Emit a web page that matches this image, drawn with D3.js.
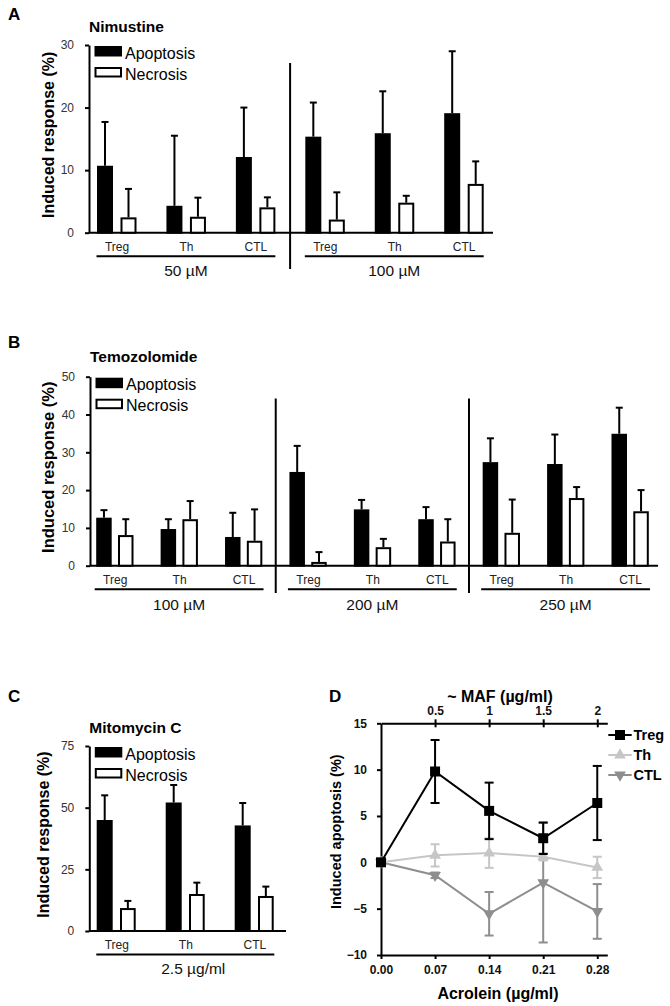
<!DOCTYPE html>
<html><head><meta charset="utf-8">
<script src="https://cdn.jsdelivr.net/npm/d3@7"></script>
<style>body{margin:0;background:#fff} svg{display:block} text{font-family:"Liberation Sans",Arial,sans-serif}</style>
</head><body><svg id="c" width="670" height="1006"></svg>
<script>
// ---------- data ----------
const cellTypes = ["Treg", "Th", "CTL"];
const seriesNames = ["Apoptosis", "Necrosis"];

const nimustineDoses = ["50 µM", "100 µM"];
const nimustineApoptosis = [10.7, 4.3, 12.1, 15.35, 15.9, 19.1];
const nimustineApoptosisErr = [7.0, 11.2, 7.9, 5.45, 6.7, 9.9];
const nimustineNecrosis = [2.45, 2.55, 4.05, 2.1, 4.8, 7.8];
const nimustineNecrosisErr = [4.55, 3.05, 1.6, 4.35, 1.1, 3.6];
const nimustineTicks = [0, 10, 20, 30];

const temozolomideDoses = ["100 µM", "200 µM", "250 µM"];
const temozolomideApoptosis = [12.7, 9.7, 7.6, 24.8, 14.9, 12.3, 27.4, 26.9, 34.9];
const temozolomideApoptosisErr = [2.0, 2.6, 6.4, 6.9, 2.5, 3.2, 6.3, 7.8, 6.9];
const temozolomideNecrosis = [8.1, 12.3, 6.6, 1.0, 4.9, 6.4, 8.7, 17.9, 14.4];
const temozolomideNecrosisErr = [4.2, 4.8, 8.3, 2.6, 2.2, 5.9, 8.8, 2.9, 5.6];
const temozolomideTicks = [0, 10, 20, 30, 40, 50];

const mitomycinDoses = ["2.5 µg/ml"];
const mitomycinApoptosis = [45.0, 52.1, 42.8];
const mitomycinApoptosisErr = [10.0, 7.1, 9.1];
const mitomycinNecrosis = [9.3, 15.0, 14.2];
const mitomycinNecrosisErr = [2.9, 4.6, 3.8];
const mitomycinTicks = [0, 25, 50, 75];

const acroleinDoses = [0, 0.07, 0.14, 0.21, 0.28];
const acroleinTickLabels = ["0.00", "0.07", "0.14", "0.21", "0.28"];
const mafTicks = [0.5, 1, 1.5, 2];
const apoptosisTicks = [-10, -5, 0, 5, 10, 15];
const tregApoptosis = [0, 9.8, 5.55, 2.6, 6.4];
const tregErr = [0, 3.4, 3.05, 1.7, 4.0];
const thApoptosis = [0, 0.75, 1.0, 0.6, -0.55];
const thErr = [0, 1.2, 1.6, 0.4, 1.15];
const ctlApoptosis = [0, -1.4, -5.55, -2.2, -5.3];
const ctlErr = [0, 0.3, 2.35, 6.45, 2.95];

// ---------- drawing ----------
const svg = d3.select("#c");
const FONT = '"Liberation Sans", Arial, sans-serif';

function letter(t, x, y) {
  svg.append("text").attr("x", x).attr("y", y).text(t)
    .attr("font-size", 17).attr("font-weight", "bold").attr("fill", "#000");
}

function barPanel(o) {
  const g = svg.append("g");
  const groups = o.doses.flatMap((d, i) => cellTypes.map(c => i + "|" + c));
  const x = d3.scalePoint().domain(groups).range([o.firstC, o.lastC]);
  const y = d3.scaleLinear().domain([0, o.yMax]).range([o.yBottom, o.yTop]);

  // title + letter
  letter(o.letter, 8, o.letterY);
  g.append("text").attr("x", o.axisX).attr("y", o.yTop - o.titleGap).text(o.title)
    .attr("font-size", 15.5).attr("font-weight", "bold");

  // y axis
  const ya = g.append("g").attr("transform", `translate(${o.axisX},0)`)
    .call(d3.axisLeft(y).tickValues(o.ticks).tickSize(4).tickSizeOuter(0).tickPadding(11));
  ya.selectAll("path,line").attr("stroke", "#000").attr("stroke-width", 2);
  ya.selectAll("text").attr("font-size", 12).attr("fill", "#333").attr("font-family", FONT);

  // y label
  g.append("text").attr("transform", `translate(${o.labelX},${(o.yTop + o.yBottom) / 2 - 4}) rotate(-90)`)
    .attr("text-anchor", "middle").attr("font-size", o.labelSize).attr("font-weight", "bold")
    .text("Induced response (%)");

  // baseline
  g.append("line").attr("x1", o.axisX).attr("x2", o.xEnd).attr("y1", o.yBottom).attr("y2", o.yBottom)
    .attr("stroke", "#000").attr("stroke-width", 2);

  // category labels
  const xa = g.append("g").attr("transform", `translate(0,${o.yBottom})`)
    .call(d3.axisBottom(x).tickSize(0).tickPadding(9.5).tickFormat(d => d.split("|")[1]));
  xa.select(".domain").remove();
  xa.selectAll("text").attr("font-size", 12).attr("fill", "#222").attr("font-family", FONT);

  // bars
  const series = [
    { vals: o.apo, errs: o.apoErr, off: o.apoOff, fill: "#000" },
    { vals: o.nec, errs: o.necErr, off: o.necOff, fill: "#fff" }
  ];
  series.forEach(s => {
    const cx = (d, i) => x(groups[i]) + (s.off[0] + s.off[1]) / 2;
    // error bars
    g.selectAll(null).data(s.vals).enter().append("line")
      .attr("x1", cx).attr("x2", cx)
      .attr("y1", d => y(d)).attr("y2", (d, i) => y(d + s.errs[i]))
      .attr("stroke", "#000").attr("stroke-width", 2);
    g.selectAll(null).data(s.vals).enter().append("line")
      .attr("x1", (d, i) => cx(d, i) - 3.5).attr("x2", (d, i) => cx(d, i) + 3.5)
      .attr("y1", (d, i) => y(d + s.errs[i])).attr("y2", (d, i) => y(d + s.errs[i]))
      .attr("stroke", "#000").attr("stroke-width", 2);
    g.selectAll(null).data(s.vals).enter().append("rect")
      .attr("x", (d, i) => x(groups[i]) + s.off[0] + 1)
      .attr("width", s.off[1] - s.off[0] - 2)
      .attr("y", d => y(d) + 1)
      .attr("height", d => Math.max(0, y(0) - y(d) - 1))
      .attr("fill", s.fill).attr("stroke", "#000").attr("stroke-width", 2);
  });

  // dose underlines, labels, dividers
  o.doses.forEach((dose, i) => {
    const x0 = x(i + "|" + cellTypes[0]) - 20, x1 = x(i + "|" + cellTypes[2]) + 20;
    g.append("line").attr("x1", x0).attr("x2", x1).attr("y1", o.yBottom + 23.5).attr("y2", o.yBottom + 23.5)
      .attr("stroke", "#000").attr("stroke-width", 2);
    g.append("text").attr("x", (x0 + x1) / 2 + o.doseShift).attr("y", o.yBottom + o.doseGap)
      .attr("text-anchor", "middle").attr("font-size", 15.5).attr("fill", "#111").text(dose);
    if (i > 0) {
      const dx = (x((i - 1) + "|" + cellTypes[2]) + x(i + "|" + cellTypes[0])) / 2;
      g.append("line").attr("x1", dx).attr("x2", dx).attr("y1", o.divTop).attr("y2", o.divBottom)
        .attr("stroke", "#000").attr("stroke-width", 2);
    }
  });

  // legend
  seriesNames.forEach((n, i) => {
    const ty = o.yTop + 1 + i * 21;
    g.append("rect").attr("x", o.axisX + 6.5).attr("y", ty + 1).attr("width", 25.5).attr("height", 8.5)
      .attr("fill", i === 0 ? "#000" : "#fff").attr("stroke", "#000").attr("stroke-width", 2);
    g.append("text").attr("x", o.axisX + 36).attr("y", ty + 12.5).attr("font-size", 16).text(n);
  });
}

barPanel({
  letter: "A", letterY: 20, title: "Nimustine", titleGap: 13,
  doses: nimustineDoses, apo: nimustineApoptosis, apoErr: nimustineApoptosisErr,
  nec: nimustineNecrosis, necErr: nimustineNecrosisErr, ticks: nimustineTicks, yMax: 30,
  axisX: 89, yTop: 45, yBottom: 232.7, xEnd: 493, firstC: 116.5, lastC: 463.7,
  apoOff: [-19.5, -3.5], necOff: [4, 20], divTop: 63, divBottom: 269,
  labelX: 54, labelSize: 16, doseGap: 43, doseShift: 0
});

barPanel({
  letter: "B", letterY: 347.5, title: "Temozolomide", titleGap: 15,
  doses: temozolomideDoses, apo: temozolomideApoptosis, apoErr: temozolomideApoptosisErr,
  nec: temozolomideNecrosis, necErr: temozolomideNecrosisErr, ticks: temozolomideTicks, yMax: 50,
  axisX: 90, yTop: 376.7, yBottom: 565.7, xEnd: 658, firstC: 114.7, lastC: 630,
  apoOff: [-18.5, -3], necOff: [3.3, 18.8], divTop: 398.5, divBottom: 593,
  labelX: 54, labelSize: 16.5, doseGap: 44, doseShift: 0
});

barPanel({
  letter: "C", letterY: 701.7, title: "Mitomycin C", titleGap: 13.3,
  doses: mitomycinDoses, apo: mitomycinApoptosis, apoErr: mitomycinApoptosisErr,
  nec: mitomycinNecrosis, necErr: mitomycinNecrosisErr, ticks: mitomycinTicks, yMax: 75,
  axisX: 89.3, yTop: 746, yBottom: 931, xEnd: 286, firstC: 116.3, lastC: 254.3,
  apoOff: [-19.6, -3.6], necOff: [3.7, 19.4], divTop: 0, divBottom: 0,
  labelX: 49, labelSize: 16, doseGap: 43, doseShift: 8
});

// ---------- panel D ----------
(function () {
  const g = svg.append("g");
  letter("D", 329, 701.7);
  const x = d3.scaleLinear().domain([0, 0.293]).range([381, 607.3]);
  const xm = d3.scaleLinear().domain([0, 0.293 / 0.14]).range([381, 607.3]);
  const y = d3.scaleLinear().domain([-10, 15]).range([955, 723.3]);

  const la = g.append("g").attr("transform", "translate(381,0)")
    .call(d3.axisLeft(y).tickValues(apoptosisTicks).tickSize(4).tickSizeOuter(0).tickPadding(10));
  const ba = g.append("g").attr("transform", "translate(0,955)")
    .call(d3.axisBottom(x).tickValues(acroleinDoses).tickSize(4).tickSizeOuter(0).tickPadding(6)
      .tickFormat((d, i) => acroleinTickLabels[i]));
  const ta = g.append("g").attr("transform", "translate(0,723.3)")
    .call(d3.axisTop(xm).tickValues(mafTicks).tickSize(4).tickSizeOuter(0).tickPadding(4)
      .tickFormat(d3.format("")));
  ta.selectAll(".tick line").attr("y2", -4).attr("y1", 4);
  [la, ba, ta].forEach(a => {
    a.selectAll("path,line").attr("stroke", "#000").attr("stroke-width", 2);
    a.selectAll("text").attr("font-size", 12).attr("font-weight", "bold").attr("fill", "#111").attr("font-family", FONT);
  });

  g.append("text").attr("x", 500).attr("y", 701.7).attr("text-anchor", "middle")
    .attr("font-size", 16).attr("font-weight", "bold").text("~ MAF (µg/ml)");
  g.append("text").attr("x", 498).attr("y", 999.3).attr("text-anchor", "middle")
    .attr("font-size", 16).attr("font-weight", "bold").text("Acrolein (µg/ml)");
  g.append("text").attr("transform", "translate(341,831.7) rotate(-90)").attr("text-anchor", "middle")
    .attr("font-size", 14.5).attr("font-weight", "bold").text("Induced apoptosis (%)");

  const series = [
    { name: "CTL", vals: ctlApoptosis, errs: ctlErr, color: "#8e8e8e", sym: d3.symbolTriangle, rot: 180, size: 60 },
    { name: "Th", vals: thApoptosis, errs: thErr, color: "#c6c6c6", sym: d3.symbolTriangle, rot: 0, size: 60 },
    { name: "Treg", vals: tregApoptosis, errs: tregErr, color: "#000", sym: d3.symbolSquare, rot: 0, size: 100 }
  ];
  const line = d3.line().x((d, i) => x(acroleinDoses[i])).y(d => y(d));
  series.forEach(s => {
    const sg = g.append("g");
    s.vals.forEach((v, i) => {
      if (s.errs[i] <= 0) return;
      const cx = x(acroleinDoses[i]);
      const lo = y(v - s.errs[i]), hi = y(v + s.errs[i]);
      sg.append("line").attr("x1", cx).attr("x2", cx).attr("y1", lo).attr("y2", hi)
        .attr("stroke", s.color).attr("stroke-width", 2);
      [lo, hi].forEach(yy => sg.append("line").attr("x1", cx - 4.5).attr("x2", cx + 4.5)
        .attr("y1", yy).attr("y2", yy).attr("stroke", s.color).attr("stroke-width", 2));
    });
    sg.append("path").attr("d", line(s.vals)).attr("fill", "none").attr("stroke", s.color).attr("stroke-width", 2);
    sg.selectAll(null).data(s.vals).enter().append("path")
      .attr("d", d3.symbol().type(s.sym).size(s.size))
      .attr("transform", (d, i) => `translate(${x(acroleinDoses[i])},${y(d)}) rotate(${s.rot})`)
      .attr("fill", s.color);
  });

  // legend
  const leg = [series[2], series[1], series[0]];
  leg.forEach((s, i) => {
    const ly = 735 + i * 20;
    g.append("line").attr("x1", 608.3).attr("x2", 631.7).attr("y1", ly).attr("y2", ly)
      .attr("stroke", s.color).attr("stroke-width", 2);
    g.append("path").attr("d", d3.symbol().type(s.sym).size(s.size))
      .attr("transform", `translate(620,${ly}) rotate(${s.rot})`).attr("fill", s.color);
    g.append("text").attr("x", 633.5).attr("y", ly + 4.5).attr("font-size", 14.5).attr("font-weight", "bold")
      .attr("fill", "#000").text(s.name);
  });
})();
</script></body></html>
